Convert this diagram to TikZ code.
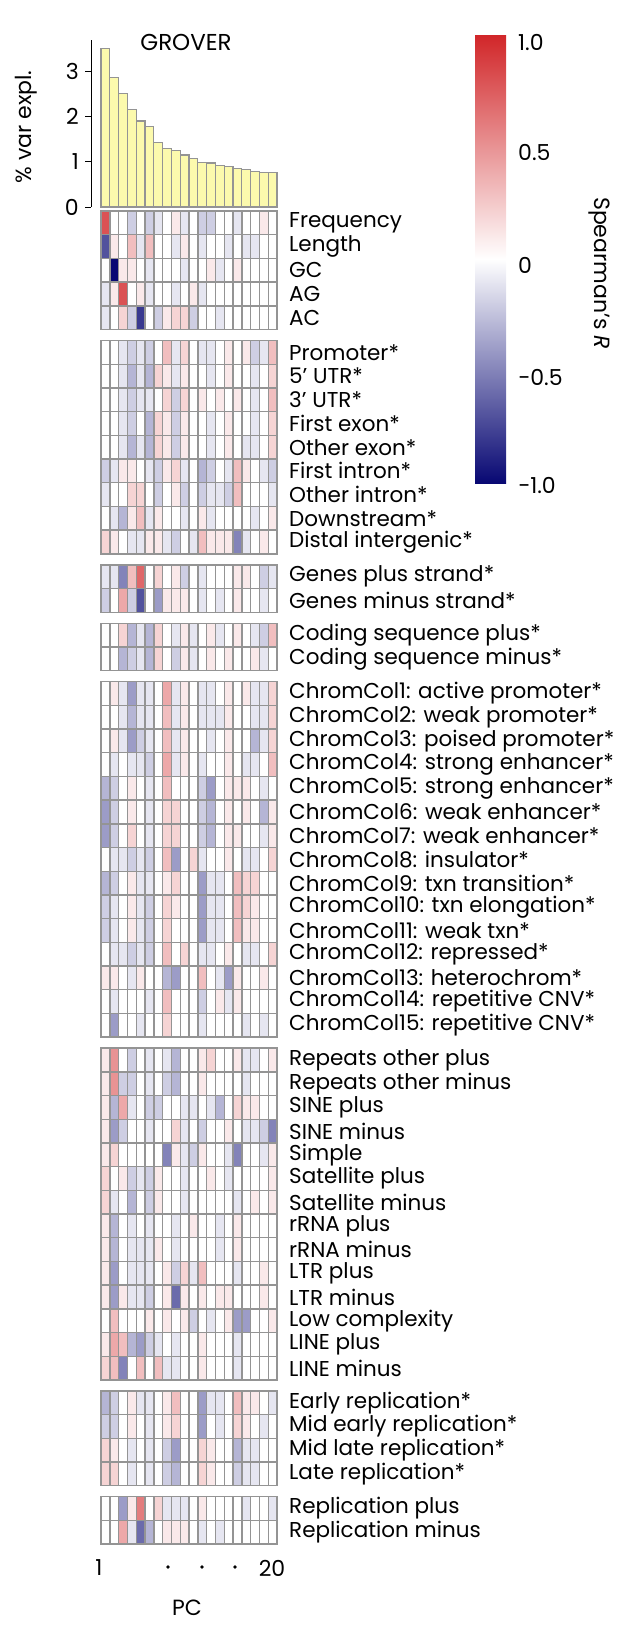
\documentclass[tikz,border=0pt]{standalone}
\usepackage{fontspec}
\setmainfont{Poppins}
\usetikzlibrary{positioning}
\definecolor{posc}{rgb}{0.82,0.15,0.16}
\definecolor{negc}{rgb}{0.03,0.03,0.45}
\definecolor{barc}{rgb}{0.99,0.98,0.68}
\definecolor{gridc}{rgb}{0.58,0.58,0.58}
\tikzset{
  cell/.style={draw=gridc, line width=1.4pt},
  lab/.style={anchor=west, font=\fontsize{21.5}{23}\selectfont, inner sep=0pt},
  tick/.style={font=\fontsize{22}{24}\selectfont, inner sep=0pt}
}
\def\rowy{211}
% one heatmap row: label, 20 values in tenths
\newcommand\hrow[2]{%
  \foreach \v [count=\c] in {#2} {%
    \ifnum\v<0 \colorlet{cc}{negc!\the\numexpr0-(\v)*10\relax!white}%
    \else \colorlet{cc}{posc!\the\numexpr(\v)*10\relax!white}\fi
    \filldraw[cell, fill=cc] ({101+(\c-1)*8.8},\rowy) rectangle ++(8.8,23.7);
  }
  \node[lab] at (289,\rowy+11.85) {#1};
  \pgfmathsetmacro\tmpy{\rowy+23.7}\xdef\rowy{\tmpy}}
\newcommand\hgap{\pgfmathsetmacro\tmpy{\rowy+11}\xdef\rowy{\tmpy}}
\begin{document}
\begin{tikzpicture}[x=1pt, y=-1pt]
\useasboundingbox (0,0) rectangle (616,1631);

% bar chart of variance explained
\foreach \h [count=\c] in {3.5,2.85,2.5,2.15,1.9,1.77,1.42,1.3,1.25,1.15,1.07,0.98,0.97,0.92,0.89,0.85,0.82,0.78,0.77,0.77}
  \filldraw[draw=gridc, line width=1.2pt, fill=barc] ({101+(\c-1)*8.8},207) rectangle ++(8.8,{-45.3*\h});
\draw[line width=1pt] (91,40) -- (91,207);
\foreach \t in {0,1,2,3} {
  \draw[line width=1pt] (85,{207-45.3*\t}) -- (91,{207-45.3*\t});
  \node[tick, anchor=east] at (79,{207-45.3*\t}) {\t};
}
\node[tick, rotate=90] (yaxis) at (26,127) {\% var expl.};
\node[font=\fontsize{23}{25}\selectfont, inner sep=0pt] (title) at (186,42) {GROVER};

% heatmap
\hrow{Frequency}{8,0,0,-2,0,-2,-1,0,1,-1,0,-2,-2,0,0,-1,0,0,1,0}
\hrow{Length}{-7,1,0,3,-1,3,0,0,-1,1,0,-1,0,0,-1,0,-1,-1,0,0}
\hrow{GC}{0,-10,1,1,0,-1,0,0,0,-1,0,0,1,-1,0,1,0,0,0,0}
\hrow{AG}{-1,1,8,0,1,-1,0,0,-1,0,1,-1,0,0,0,0,0,0,0,0}
\hrow{AC}{-1,0,2,-2,-8,0,-2,1,2,2,-2,0,0,-1,0,0,0,0,0,0}
\hgap
\hrow{Promoter*}{0,0,-1,-2,-1,-2,0,3,-1,2,0,-1,-1,0,1,0,1,-2,-1,3}
\hrow{5’ UTR*}{0,0,-1,-3,-1,-3,2,1,-1,1,0,0,-1,0,1,0,0,-1,0,2}
\hrow{3’ UTR*}{0,0,-1,-2,-1,-1,0,2,-2,2,0,1,0,1,0,1,0,-1,0,3}
\hrow{First exon*}{0,0,-1,-2,0,-3,2,1,-2,1,0,0,-1,0,1,0,0,-1,0,2}
\hrow{Other exon*}{0,0,-1,-3,-1,-3,2,1,-2,1,0,0,-1,0,1,0,-1,-1,0,2}
\hrow{First intron*}{-2,-1,1,1,0,-1,-2,1,2,-1,0,-3,-2,0,-1,3,1,0,-1,-2}
\hrow{Other intron*}{-1,0,0,2,2,0,-2,0,1,-2,0,-2,-1,-1,-2,3,0,0,0,-1}
\hrow{Downstream*}{0,-1,-3,1,3,-1,1,0,0,-1,0,1,-1,0,0,0,0,-1,0,1}
\hrow{Distal intergenic*}{2,1,0,-1,-1,1,1,-1,-2,0,-1,3,1,1,1,-5,-1,0,1,0}
\hgap
\hrow{Genes plus strand*}{-1,-1,-5,3,7,0,2,0,1,-2,0,-1,0,0,0,1,1,0,-2,-1}
\hrow{Genes minus strand*}{-2,0,4,-2,-7,0,-4,1,1,1,0,-1,0,-1,0,1,0,0,-1,0}
\hgap
\hrow{Coding sequence plus*}{0,0,2,-3,-1,-3,2,0,-1,1,-1,0,1,-1,0,1,0,-1,-2,3}
\hrow{Coding sequence minus*}{0,0,-3,-2,-1,-3,2,0,-2,1,-1,0,1,0,1,0,0,1,-1,0}
\hgap
\hrow{ChromCol1: active promoter*}{0,1,-1,-4,-1,-1,0,4,-1,1,0,-1,-1,0,1,0,1,-1,-1,2}
\hrow{ChromCol2: weak promoter*}{0,0,-1,-3,-1,-1,0,3,-1,1,0,-1,-1,-1,1,0,0,-1,-1,2}
\hrow{ChromCol3: poised promoter*}{0,1,-1,-4,-2,-1,0,3,-1,1,0,0,-1,0,1,0,0,-3,-1,2}
\hrow{ChromCol4: strong enhancer*}{0,-1,0,-1,-1,-2,0,4,-1,1,0,-1,0,0,1,0,-1,-1,0,3}
\hrow{ChromCol5: strong enhancer*}{-3,-2,0,1,0,-1,0,3,0,0,0,-2,-4,0,1,1,1,0,-1,0}
\hrow{ChromCol6: weak enhancer*}{-4,-2,0,1,0,-1,0,2,2,0,0,-2,-3,0,1,0,1,0,-3,1}
\hrow{ChromCol7: weak enhancer*}{-4,-2,0,2,0,-1,0,2,2,0,0,-2,-3,0,1,1,0,0,-1,1}
\hrow{ChromCol8: insulator*}{0,-1,-1,-2,-1,-2,0,3,-4,0,2,-1,0,0,1,0,-1,-1,0,2}
\hrow{ChromCol9: txn transition*}{-3,-2,0,1,-1,-1,0,1,2,0,0,-4,-1,-1,0,3,2,2,0,0}
\hrow{ChromCol10: txn elongation*}{-2,-1,0,1,-1,-2,0,2,1,0,0,-4,-1,-1,0,3,2,1,0,0}
\hrow{ChromCol11: weak txn*}{-2,-1,0,1,-1,-2,0,2,0,0,0,-4,-1,-1,0,3,1,1,0,0}
\hrow{ChromCol12: repressed*}{0,-1,-1,-2,-1,-2,0,3,0,2,0,-1,-1,0,1,0,-1,-1,0,2}
\hrow{ChromCol13: heterochrom*}{1,1,0,-1,1,0,0,-3,-4,0,0,3,0,-1,-4,1,0,0,1,0}
\hrow{ChromCol14: repetitive CNV*}{0,-1,0,0,0,-1,0,3,0,0,0,-2,0,1,-1,1,0,0,0,0}
\hrow{ChromCol15: repetitive CNV*}{0,-4,0,0,-1,0,0,2,0,0,0,-1,0,0,0,0,-1,0,-1,0}
\hgap
\hrow{Repeats other plus}{1,5,0,-2,0,-1,0,-1,-3,0,0,1,2,0,0,1,-1,-1,0,1}
\hrow{Repeats other minus}{1,5,-2,-2,0,-1,0,-2,-3,0,0,1,0,0,0,0,-1,0,0,0}
\hrow{SINE plus}{1,-3,4,-1,0,-2,-2,0,0,-1,-1,0,-1,-3,0,2,1,1,0,0}
\hrow{SINE minus}{1,-4,-2,0,0,-1,0,0,2,-1,0,-2,0,0,1,0,-1,-1,-2,-5}
\hrow{Simple}{1,2,0,0,0,0,0,-5,1,-1,-2,1,0,0,-1,-5,0,0,-1,1}
\hrow{Satellite plus}{2,0,1,-2,-1,-2,1,0,0,-1,0,0,1,0,-1,0,0,0,0,1}
\hrow{Satellite minus}{2,-1,0,-3,0,-2,1,0,0,-1,0,0,0,0,0,-1,0,1,0,1}
\hrow{rRNA plus}{1,-3,0,-1,0,-1,0,0,-1,0,1,0,0,-1,0,1,0,0,0,0}
\hrow{rRNA minus}{1,-3,0,-1,-1,-1,1,0,-1,0,0,0,0,-1,0,1,0,0,0,0}
\hrow{LTR plus}{1,-4,0,-1,-1,-1,0,1,-2,2,-1,3,0,0,0,-1,0,0,1,0}
\hrow{LTR minus}{1,-4,1,-1,-1,-2,0,1,-6,1,0,1,0,1,1,0,0,0,1,0}
\hrow{Low complexity}{0,3,0,0,0,1,0,1,0,1,-2,0,-1,0,1,-4,-4,0,0,1}
\hrow{LINE plus}{1,4,3,-3,-4,-2,-1,0,-1,0,0,1,0,0,0,-1,0,0,0,0}
\hrow{LINE minus}{2,3,-5,0,3,0,3,-1,-1,0,0,1,0,0,0,-1,0,0,0,0}
\hgap
\hrow{Early replication*}{-3,-2,0,1,-1,-1,0,1,3,0,0,-4,-1,-1,0,3,1,1,0,-1}
\hrow{Mid early replication*}{-2,-2,0,1,0,-1,0,1,2,0,0,-4,0,-1,0,2,1,0,-1,0}
\hrow{Mid late replication*}{2,1,0,-1,0,-1,0,-2,-4,0,0,2,1,0,0,-3,-1,-1,0,0}
\hrow{Late replication*}{2,2,0,-1,0,-1,0,-2,-3,0,0,2,1,0,0,-2,-1,-1,0,0}
\hgap
\hrow{Replication plus}{0,0,-4,1,6,0,2,-1,-1,-1,0,1,0,0,0,0,-1,0,0,-1}
\hrow{Replication minus}{0,0,4,-1,-6,-3,0,1,1,1,0,-1,0,-1,0,0,0,0,0,0}

% x axis labels
\node[tick] (pcfirst) at (99,1568) {1};
\foreach \x in {168,202,235} \fill (\x,1567) circle (1.8);
\node[tick] (pclast) at (272,1568) {20};
\node[tick] (pc) at (187,1608) {PC};

% colour bar
\shade[top color=posc, bottom color=white] (475,35) rectangle (506,259);
\shade[top color=white, bottom color=negc] (475,259) rectangle (506,483);
\foreach \t/\y in {1.0/42, 0.5/152, 0/265, \char"2212 0.5/377, \char"2212 1.0/485}
  \node[tick, anchor=west] at (518,\y) {\t};
\node[tick, rotate=-90] (cbar) at (599,273) {Spearman’s \textit{R}};
\end{tikzpicture}
\end{document}
